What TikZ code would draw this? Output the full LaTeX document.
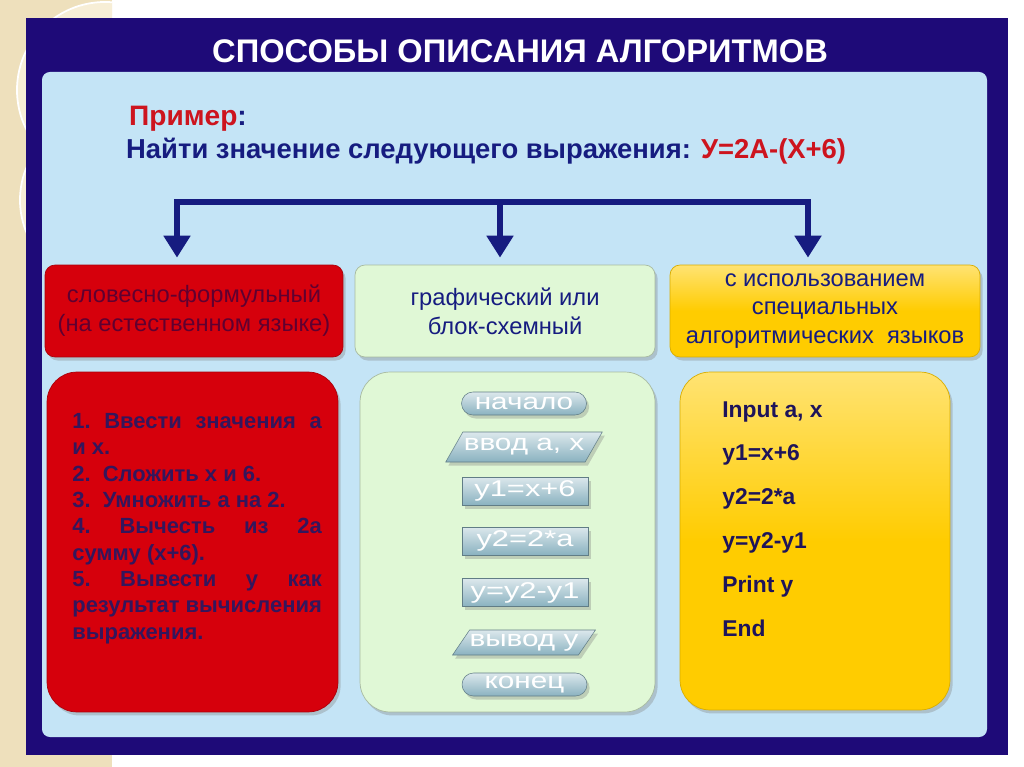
\documentclass[tikz,border=0pt]{standalone}
\usepackage{graphicx}
\usepackage{fontspec}
\setmainfont{Liberation Sans}
\usetikzlibrary{arrows.meta,shapes.geometric,shadows}

\definecolor{ramka}{RGB}{30,10,120}
\definecolor{panel}{RGB}{196,228,246}
\definecolor{tekst}{RGB}{22,28,128}
\definecolor{krasnyj}{RGB}{205,20,30}
\definecolor{boxred}{RGB}{214,0,12}
\definecolor{boxgreen}{RGB}{224,248,214}
\definecolor{boxyellow}{RGB}{255,204,0}
\definecolor{bez}{RGB}{238,224,188}
\definecolor{krem}{RGB}{247,238,214}
\definecolor{blok}{RGB}{138,178,192}
\definecolor{redtext}{RGB}{96,0,48}
\definecolor{shagtext}{RGB}{52,22,92}
\definecolor{kodtext}{RGB}{30,20,90}

\begin{document}
\begin{tikzpicture}[x=0.02cm, y=-0.02cm,
    ten/.style={drop shadow={opacity=0.35, shadow xshift=1.5pt, shadow yshift=-2pt}},
    korobka/.style={rectangle, rounded corners=5.7pt, ten, inner sep=0pt, align=center,
      font=\fontsize{13.5}{16.4}\selectfont},
    bolshaya/.style={rectangle, rounded corners=0.6cm, ten, inner sep=0pt, minimum height=6.8cm},
    blokfig/.style={draw=blok!70!black, line width=0.3pt, top color=blok!30!white, bottom color=blok,
      text=white, inner sep=0pt, font=\fontsize{13}{15}\selectfont, ten},
    kapsula/.style={blokfig, rectangle, rounded corners=0.23cm, minimum width=2.5cm, minimum height=0.46cm},
    deistvie/.style={blokfig, rectangle, minimum width=2.52cm, minimum height=0.56cm},
    vvod/.style={blokfig, trapezium, trapezium left angle=45, trapezium right angle=135,
      trapezium stretches=true},
    strelka/.style={draw=tekst, line width=3.4pt, shorten >=4pt, -{Triangle[width=14.7pt,length=12.5pt]}},
    shina/.style={draw=tekst, line width=3.4pt, line cap=rect}]

  % ==================== 1. Фон слайда ====================
  \useasboundingbox (0,0) rectangle (1024,767);
  \fill[white] (0,0) rectangle (1024,767);
  \fill[bez] (0,0) rectangle (112,767);
  \begin{scope}
    \clip (0,0) rectangle (112,767);
    \draw[fill=krem, draw=white, line width=1pt] (105,90) circle (88);
    \draw[fill=krem, draw=white, line width=1pt] (105,200) circle (85);
  \end{scope}

  % 2. Рамка и панель
  \fill[ramka] (26,18) rectangle (1008,755);
  \fill[panel, rounded corners=4.5pt] (42,72) rectangle (987,737);

  % 3. Заголовок и условие
  \node[anchor=base, text=white, font=\bfseries\fontsize{18.6}{22}\selectfont] (zagolovok) at (520,63)
    {СПОСОБЫ ОПИСАНИЯ АЛГОРИТМОВ};
  \node[anchor=base west, text=tekst, font=\bfseries\fontsize{16}{19}\selectfont] (primer) at (123,126)
    {\textcolor{krasnyj}{Пример}:};
  \node[anchor=base west, text=tekst, font=\bfseries\fontsize{15.6}{18}\selectfont] (zadacha) at (120,158)
    {Найти значение следующего выражения: \textcolor{krasnyj}{У=2А-(Х+6)}};

  % 4. Верхний ряд: три способа
  \node[korobka, fill=boxred, draw=boxred!80!black, text=redtext, minimum width=5.96cm, minimum height=1.84cm]
    (slovo) at (194,311) {словесно-формульный\\(на естественном языке)};
  \node[korobka, fill=boxgreen, draw=boxgreen!75!black, text=tekst, minimum width=6.0cm, minimum height=1.84cm]
    (grafika) at (505,311) {графический или\\блок-схемный};
  \node[korobka, top color=boxyellow!55!white, bottom color=boxyellow, middle color=boxyellow,
    draw=boxyellow!85!black, text=tekst, minimum width=6.2cm, minimum height=1.84cm]
    (yazyk) at (825,311) {с использованием\\специальных\\алгоритмических\ \ языков};

  % 5. Стрелки от условия
  \coordinate (lev) at (177,202);
  \coordinate (sred) at (500,202);
  \coordinate (prav) at (808,202);
  \draw[shina] (lev) -- (prav);
  \draw[strelka] (lev) -- (lev |- slovo.north);
  \draw[strelka] (sred) -- (sred |- grafika.north);
  \draw[strelka] (prav) -- (prav |- yazyk.north);

  % 6. Нижний ряд: большие блоки
  \node[bolshaya, fill=boxred, draw=boxred!80!black, minimum width=5.82cm] (slovoblok) at (192.5,542) {};
  \node[bolshaya, fill=boxgreen, draw=boxgreen!75!black, minimum width=5.9cm] (grafblok) at (507.5,542) {};
  \node[bolshaya, top color=boxyellow!55!white, bottom color=boxyellow, middle color=boxyellow,
    draw=boxyellow!85!black, minimum width=5.4cm, minimum height=6.76cm] (yazblok) at (815,541) {};

  % словесное описание
  \node[anchor=north west, inner sep=0pt, text width=142pt, align=justify, text=shagtext,
    font=\bfseries\fontsize{12.5}{15}\selectfont] (shagi) at (72,413)
    {\hyphenpenalty=10000 \hbadness=10000
     1.~Ввести значения a\linebreak и x.\par
     2.\ \ Сложить x и 6.\par
     3.\ \ Умножить a на 2.\par
     4.~Вычесть из 2a\linebreak сумму (x+6).\par
     5.~Вывести y как\linebreak результат вычисления\linebreak выражения.};

  % блок-схема
  \node[kapsula] (nachalo) at (524,403.5) {\scalebox{1.3}[1]{начало}};
  \node[vvod, minimum width=3.16cm, minimum height=0.6cm] (vvodax) at (524,447) {\scalebox{1.3}[1]{ввод а, х}};
  \node[deistvie] (y1) at (525,491) {\scalebox{1.35}[1]{y1=x+6}};
  \node[deistvie] (y2) at (525,541) {\scalebox{1.35}[1]{y2=2*a}};
  \node[deistvie] (yy) at (525,592.5) {\scalebox{1.35}[1]{y=y2-y1}};
  \node[vvod, minimum width=2.76cm, minimum height=0.5cm] (vyvod) at (524,642.5) {\scalebox{1.3}[1]{вывод у}};
  \node[kapsula] (konec) at (524.5,684.5) {\scalebox{1.3}[1]{конец}};

  % программа
  \node[anchor=north west, inner sep=0pt, align=left, text=kodtext,
    font=\bfseries\fontsize{13}{25}\selectfont] (kod) at (722,401)
    {Input a, x\\y1=x+6\\y2=2*a\\y=y2-y1\\Print y\\End};

\end{tikzpicture}
\end{document}
